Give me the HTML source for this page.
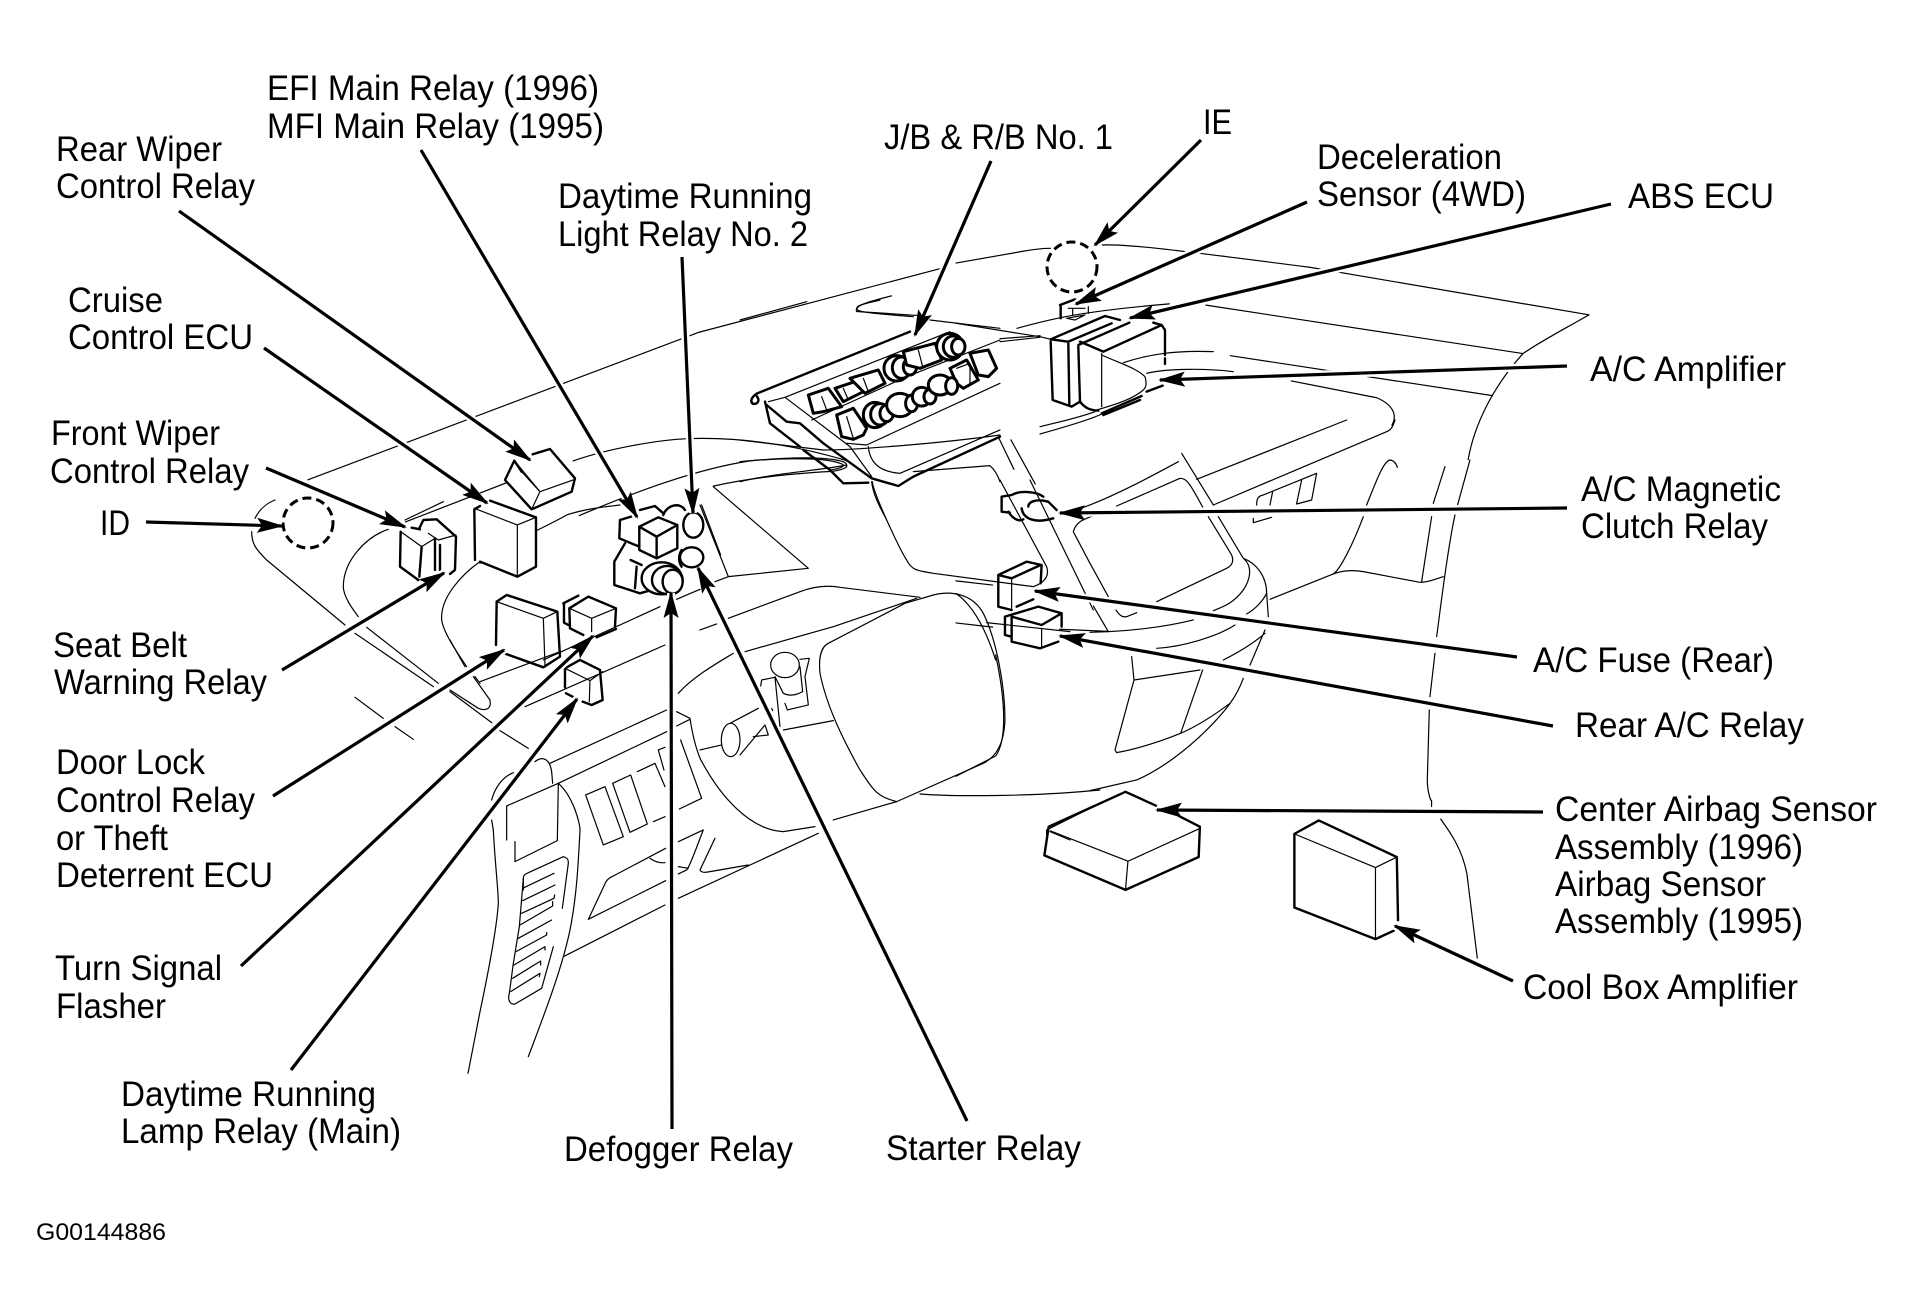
<!DOCTYPE html>
<html><head><meta charset="utf-8"><title>Diagram</title>
<style>
html,body{margin:0;padding:0;background:#fff}
svg{display:block}
text{font-family:"Liberation Sans",sans-serif;font-size:35px;fill:#000}
path,ellipse{vector-effect:non-scaling-stroke;fill:none;stroke:#000;stroke-linejoin:round;stroke-linecap:round}
.t path,.t ellipse{stroke-width:1.2}
.k path,.k ellipse{stroke-width:2.4}
.f path,.f ellipse{stroke-width:3}
.k .w,.k ellipse,.f .w,.f ellipse{fill:#fff}
.a{stroke-width:3.2;stroke-linecap:butt;marker-end:url(#h)}
.halo{stroke:#fff;stroke-width:8;stroke-linecap:butt}
</style></head><body>
<svg width="1912" height="1315" viewBox="0 0 1912 1315" xmlns="http://www.w3.org/2000/svg">
<defs><marker id="h" markerUnits="userSpaceOnUse" markerWidth="30" markerHeight="16" refX="25" refY="7.5" orient="auto"><polygon points="0,0 27,7.5 0,15 5,7.5" fill="#000"/></marker></defs>
<rect width="1912" height="1315" fill="#fff"/>

<!-- thin dash lines: zoom-1 coordinates -->
<g class="t" transform="translate(0,0) scale(.6097,.4209)">
<path d="M505 1140L1145 790L1550 635"/>
<path d="M665 1240L870 1125M940 1095C1000 1065 1080 1045 1130 1042C1220 1038 1310 1060 1390 1095"/>
<path d="M950 1225C1040 1170 1140 1115 1230 1095C1300 1085 1360 1085 1385 1098C1395 1110 1385 1115 1365 1120"/>
<path d="M1170 1155C1230 1135 1300 1125 1365 1120"/>
<path d="M1405 740C1400 725 1430 715 1462 703M1405 740L1510 750"/>
</g>

<!-- left hood -->
<g class="t" transform="translate(240,500) scale(.3333)">
<path d="M45 55C60 25 80 10 105 0"/>
<path d="M35 95C35 130 45 145 80 180L315 375M345 400L580 560"/>
<path d="M445 88C380 110 310 180 310 260C310 290 340 330 355 350M380 382L595 550"/>
<path d="M345 592L430 655M465 680L520 718"/>
<path d="M495 60L610 5"/>
<path d="M630 570L715 625C740 635 755 625 750 600L700 530"/>
</g>

<!-- right dash: zoom-2 coordinates -->
<g class="t" transform="translate(956,0) scale(.6097,.4209)">
<path d="M0 625L110 597C130 592 145 590 155 590M240 582C280 580 340 590 580 635L1038 748"/>
<path d="M0 768L137 800"/>
<path d="M100 780C150 760 200 740 350 722M410 725L930 840"/>
<path d="M450 845L880 940M550 905L690 945C715 960 725 985 715 1010"/>
<path d="M70 1040L95 1115M90 1045L130 1150"/>
<path d="M1038 748C1000 780 960 810 930 840C880 920 850 1010 840 1092"/>
<path d="M0 1380L60 1390M0 1480L60 1490M0 1410C30 1440 50 1500 65 1568M170 1495L250 1500"/>
</g>

<!-- ABS / amplifier -->
<g transform="translate(1040,290) scale(.3333)">
<g class="k">
<path d="M60 45L105 28M62 45L62 85"/>
<path d="M32 148L195 78L240 90M32 148L85 155L215 100M32 155L38 330L95 350L120 335M85 160L88 345M115 170L120 335C135 355 150 360 175 362M115 165L268 98M120 155L190 185L365 105L340 98M365 105L375 120L375 195M375 205L375 222"/>
<path d="M320 305L368 287M185 370L305 318M190 375L300 330"/>
</g>
<g class="t">
<path d="M85 55L135 55M98 55L98 75M145 50L145 70M80 85L135 75L105 90L80 85"/>
<path d="M185 195C240 220 290 235 315 260C320 280 320 290 310 300C280 325 240 340 170 360M185 190L185 350"/>
<path d="M250 218C320 195 400 180 520 185"/>
<path d="M320 250C380 235 500 235 580 245"/>
<path d="M0 140L32 148M0 410C60 395 110 385 165 365M0 432C60 415 150 390 185 372"/>
<path d="M-120 146L0 137M-120 155L0 142"/>
</g>
</g>

<!-- right region detail -->
<g class="t" transform="translate(1090,420) scale(.3333)">
<path d="M-81 285L0 255C100 215 200 160 265 125M275 100L370 255M320 178L770 0"/>
<path d="M80 258L270 175C290 175 300 190 340 265M355 290L425 405C435 430 420 440 410 445L200 545"/>
<path d="M385 290L460 415C500 430 530 470 530 520L535 590M460 415C490 440 480 480 460 510C430 550 400 560 370 572"/>
<path d="M370 255L630 145L890 35C905 30 910 15 915 0"/>
<path d="M500 255C500 235 505 228 520 225L680 160L665 240L620 252M635 180L620 250M548 215L540 255M490 295L490 308L545 292"/>
<path d="M830 255C860 180 880 125 900 120C915 122 920 135 922 142M820 290C790 370 750 450 730 462L540 538"/>
<path d="M730 462C760 450 790 450 820 455L990 487C1020 487 1040 475 1060 470M1065 140L1030 250M1025 290L995 485"/>
<path d="M1140 120L1100 265M1095 285C1070 400 1050 580 1040 650M1035 700L1020 830M1018 870L1012 1080C1012 1100 1015 1120 1022 1140"/>
<path d="M0 430L55 530M10 558L55 635M78 570C90 590 100 592 110 590L140 578"/>
<path d="M0 637L55 635C150 630 230 620 310 600M470 582C500 565 520 540 530 520M200 685C280 680 380 650 435 615M400 720C450 695 490 670 525 640M525 630L480 735"/>
<path d="M460 775C440 830 410 870 350 930C290 990 210 1050 140 1080L0 1112"/>
<path d="M125 710L132 780L330 750M132 780L75 990L80 998C150 985 210 965 272 940C330 915 380 880 420 850M338 750L272 940"/>
</g>

<!-- lower right: zoom-4 coordinates -->
<g class="t" transform="translate(956,655) scale(.6097,.4209)">
<path d="M780 345L780 360M795 390C810 420 830 460 838 520L855 720"/>
<path d="M65 0C80 100 85 200 65 240L0 288"/>
</g>
<g class="k" transform="translate(956,655) scale(.6097,.4209)">
<path d="M278 325L328 358M365 382L400 408L398 480L278 558L145 476L152 408L278 325"/>
<path d="M723 480L725 630M718 655L688 675L555 600L555 425L595 393L723 480"/>
</g>
<g class="t" transform="translate(956,655) scale(.6097,.4209)">
<path d="M155 418L282 490L400 412M282 490L278 558"/>
<path d="M555 425L688 505L723 480M688 505L688 675"/>
</g>

<!-- steering wheel region -->
<g class="t" transform="translate(700,480) scale(.3333)">
<path d="M517 5C520 40 600 210 620 240C635 270 650 272 700 280L1000 320"/>
<path d="M40 20L325 265L85 290L0 75M45 305L85 290"/>
<path d="M85 415L300 335C340 320 380 315 420 322L660 352M0 450L50 432"/>
<path d="M135 515L400 440L650 355"/>
<path d="M385 490L615 370L700 345C760 330 820 345 850 400C890 480 915 620 915 720C912 790 890 830 850 850L590 965C530 950 520 930 480 870C430 780 380 680 360 580C355 530 365 500 385 490Z"/>
<path d="M860 428L1110 455M660 942C760 950 1000 950 1200 930"/>
<path d="M400 1020L590 965M0 835C60 950 150 1050 250 1055L345 1040"/>
<ellipse cx="255" cy="555" rx="43" ry="38"/>
<path d="M225 590L250 640C270 650 290 645 308 635L300 560M300 538L328 535L315 590L325 675L262 690L255 670M182 618L185 600L225 592L240 740M250 750L400 722"/>
<path d="M90 730L175 685M215 685L218 692"/>
<ellipse cx="92" cy="780" rx="28" ry="50"/>
<path d="M120 825L195 735L205 765L160 770M0 810L65 795"/>
<path d="M900 0L1040 260C1050 290 1030 310 1000 320M990 0L1180 390M1120 155C1130 120 1160 115 1200 100M1120 155L1170 250"/>
<path d="M1040 1080L1040 1050L1200 970M1050 1055L1110 1080"/>
</g>
<g class="k" transform="translate(700,480) scale(.3333)">
<path d="M905 50L905 95L930 98M905 50L935 45C960 30 1010 35 1030 50M965 85C970 120 1010 130 1060 115M985 80C985 65 1010 55 1045 65L1070 90M925 95C940 120 960 125 970 118"/>
<path d="M895 285L895 380L935 390M895 285L980 245L1025 255L1022 310M895 285L935 295L1022 255M950 380L1000 358"/>
<path d="M915 410L915 465L935 470M915 410L1015 380L1085 400L1085 440M935 410L1025 435L1085 400M935 410L935 485L1020 505L1075 485"/>
</g>
<g class="t" transform="translate(700,480) scale(.3333)"><path d="M1025 445L1025 505M935 295L935 385"/></g>

<!-- lower-left console -->
<g class="t" transform="translate(440,640) scale(.3333)">
<path d="M120 125L360 35M255 200L675 15M330 370L680 210M355 430L680 275"/>
<path d="M30 0L75 80M30 155L155 248M180 272L265 325"/>
<path d="M155 480C165 440 190 410 220 398M285 365C310 345 330 360 335 395L338 430M355 430L200 498L200 600M355 430L352 602L225 665L225 605"/>
<path d="M155 540L160 570M355 430C400 470 420 550 420 570"/>
<path d="M437 465L495 440L550 590L490 615ZM518 430L572 405L622 552L570 577ZM592 395L645 370L675 440M640 545L675 530M655 330L675 322M655 330L672 390M722 300L785 475L718 507"/>
<path d="M715 605L790 570C770 620 750 680 740 690L715 702M715 680L745 685M825 595L780 690C785 700 800 697 810 695L925 675"/>
<path d="M715 775L1135 580M710 215L750 235C760 300 770 330 780 354M710 258L750 238M715 160C760 110 830 70 880 40"/>
</g>

<!-- vent & pillars -->
<g class="t" transform="translate(480,830) scale(.3333)">
<path d="M40 0C45 100 55 180 55 220C50 300 20 450 0 545L-36 730"/>
<path d="M300 0C295 100 290 200 270 300C245 420 190 560 145 680"/>
<path d="M250 380L555 225M325 268L378 155C385 145 390 143 400 138L557 55M325 268L557 152M510 85C525 95 540 100 555 98"/>
<path d="M130 180L130 145C130 135 135 133 145 128L250 80C265 85 265 90 265 100L247 235"/>
<path d="M130 145L118 290L100 400L88 490C82 510 90 525 105 522L185 475L220 350"/>
<path d="M128 175L222 130M128 212L225 165M125 250L222 205L224 195M120 285L218 228L218 215M115 325L215 270M108 365L200 315L200 308M102 405L195 350L195 360M98 445L182 393L182 405M92 485L180 430L178 440"/>
</g>

<!-- relays -->
<g transform="translate(380,430) scale(.3333)">
<g class="t">
<path d="M300 395C250 430 180 500 185 570C190 610 240 680 260 710M285 740L300 760"/>
<path d="M300 400C400 330 500 290 560 255C620 235 680 230 720 225"/>
<path d="M490 690L840 530M890 508L960 478"/>
<path d="M965 225L1022 375"/>
</g>
<g class="k">
<path class="w" d="M458 73L510 57L585 145L575 185L455 238L375 150L403 92Z" style="stroke:none"/>
<path d="M458 73L510 57L585 145L575 185L455 238L375 150L403 92L425 125"/>
<path class="w" d="M283 238L330 212L468 262L468 410L412 440L283 390Z" style="stroke:none"/>
<path d="M330 212L468 262L468 410L412 440L300 395M285 390L283 238L300 228"/>
<path d="M62 305L60 410L115 450M95 293L120 298M118 295L130 270L170 268L228 320L225 420L210 432"/>
<path d="M125 350L118 440M165 325L165 420M180 345L180 420"/>
<path d="M350 515L380 495L532 545L540 680L490 712L378 672M350 515L348 645"/>
<path d="M550 520L595 497M552 520L552 578L565 585M568 535L625 500L708 535L705 590M568 535L570 595L610 615M650 622L708 597"/>
<path d="M555 715L600 690L660 720L668 810L635 825L608 815M555 715L555 772M558 790L578 800"/>
<path d="M720 270L770 255M720 270L718 325L778 350M780 240L825 228L850 250M850 255C860 225 900 215 915 240"/>
<path d="M735 340L703 395L703 465L780 490L815 480M752 390L785 405M770 410L765 475"/>
<ellipse cx="940" cy="285" rx="30" ry="38"/>
<ellipse cx="935" cy="382" rx="35" ry="30"/>
<path d="M905 360C895 375 895 395 905 410"/>
<path class="w" d="M778 290L835 262L892 285L892 355L830 385L778 360Z"/>
<path d="M778 290L830 320L892 285M830 320L830 385"/>
<ellipse cx="845" cy="445" rx="60" ry="48"/>
<ellipse cx="862" cy="450" rx="46" ry="42"/>
<ellipse cx="878" cy="455" rx="30" ry="36"/>
</g>
<g class="t">
<path d="M403 92L480 185L585 148M480 185L455 238M425 125L480 185"/>
<path d="M283 235L412 285L468 262M412 285L412 440"/>
<path d="M62 305L125 350L165 325M145 310L175 330L228 315"/>
<path d="M350 515L490 565L532 545M490 565L495 705"/>
<path d="M568 535L635 565L708 535M635 565L635 605"/>
<path d="M555 715L630 752L668 725M630 752L628 815"/>
</g>
</g>

<!-- fuse box -->
<g transform="translate(740,300) scale(.3333)">
<g class="t">
<path d="M0 60L200 5M570 60L780 85"/>
<path d="M0 420L250 450C350 450 600 430 780 405M0 485C100 475 250 470 300 490C320 495 310 505 270 510M0 545C100 520 250 510 320 495"/>
<path d="M395 545C400 590 425 630 440 660M520 515L750 497C765 510 775 530 780 545"/>
<path d="M85 305L135 292L630 95M135 292L330 440L395 530M320 430L380 435L780 250M215 360L500 230L780 120M385 440C390 490 420 515 480 520L780 390"/>
<path d="M350 25C350 15 380 10 420 0M350 25C350 35 370 38 520 50"/>
</g>
<g class="k">
<path d="M52 280L510 95M52 280C35 290 28 305 40 312C55 312 60 300 50 288"/>
<path d="M75 305L90 370L180 440M190 450L270 510L310 550L385 548"/>
<path d="M80 315L140 365L180 370L250 430L395 535L475 558L520 530L780 410"/>
</g>
<g class="f">
<path class="w" d="M205 285L265 265L305 320L250 335L220 340Z"/>
<path class="w" d="M285 265L360 240L370 275L310 305Z"/>
<path class="w" d="M330 235L415 210L435 250L375 280Z"/>
<ellipse cx="470" cy="205" rx="38" ry="38"/><ellipse cx="485" cy="203" rx="28" ry="32"/><ellipse cx="510" cy="200" rx="20" ry="25"/>
<path class="w" d="M490 155L585 130L605 180L540 205L500 195Z"/>
<ellipse cx="630" cy="140" rx="40" ry="40"/><ellipse cx="640" cy="140" rx="30" ry="32"/><ellipse cx="655" cy="140" rx="20" ry="25"/>
<path class="w" d="M690 160L745 150L770 205L745 230L715 225Z"/>
<path class="w" d="M630 205L680 180L715 240L670 265L650 250Z"/>
<path class="w" d="M290 345L340 325L380 385L370 405L340 418L305 410Z"/>
<ellipse cx="405" cy="345" rx="35" ry="38"/><ellipse cx="420" cy="343" rx="28" ry="32"/><ellipse cx="440" cy="340" rx="20" ry="25"/>
<ellipse cx="480" cy="315" rx="40" ry="35"/><ellipse cx="515" cy="310" rx="18" ry="25"/>
<ellipse cx="545" cy="290" rx="28" ry="28"/><ellipse cx="570" cy="290" rx="18" ry="22"/>
<ellipse cx="600" cy="255" rx="35" ry="30"/><ellipse cx="635" cy="258" rx="18" ry="25"/>
</g>
<g class="t">
<path d="M245 290L262 335M310 265L325 300M370 235L385 275M535 150L548 200M650 205L690 190L690 255M320 350L340 415"/>
</g>
</g>

<!-- dashed circles -->
<circle cx="308" cy="523" r="25" fill="none" stroke="#000" stroke-width="3" stroke-dasharray="9 5"/>
<circle cx="1072" cy="267" r="25" fill="none" stroke="#000" stroke-width="3" stroke-dasharray="9 5"/>

<!-- halos -->
<path class="halo" d="M179 211L530 460M264 348L487 503M421 150L637 517M682 257L693 513M991 161L915 335M266 468L405 527M146 522L282 526M282 670L444 573M273 796L504 650M241 966L593 636M291 1070L577 699M672 1129L671 593M967 1121L698 568M1201 140L1095 245M1307 202L1076 304M1611 204L1130 318M1567 366L1160 380M1567 508L1060 513M1517 657L1035 591M1553 726L1060 636M1543 812L1157 810M1513 981L1395 926"/>

<!-- arrows -->
<g>
<path class="a" d="M179 211L530 460"/>
<path class="a" d="M264 348L487 503"/>
<path class="a" d="M421 150L637 517"/>
<path class="a" d="M682 257L693 513"/>
<path class="a" d="M991 161L915 335"/>
<path class="a" d="M266 468L405 527"/>
<path class="a" d="M146 522L282 526"/>
<path class="a" d="M282 670L444 573"/>
<path class="a" d="M273 796L504 650"/>
<path class="a" d="M241 966L593 636"/>
<path class="a" d="M291 1070L577 699"/>
<path class="a" d="M672 1129L671 593"/>
<path class="a" d="M967 1121L698 568"/>
<path class="a" d="M1201 140L1095 245"/>
<path class="a" d="M1307 202L1076 304"/>
<path class="a" d="M1611 204L1130 318"/>
<path class="a" d="M1567 366L1160 380"/>
<path class="a" d="M1567 508L1060 513"/>
<path class="a" d="M1517 657L1035 591"/>
<path class="a" d="M1553 726L1060 636"/>
<path class="a" d="M1543 812L1157 810"/>
<path class="a" d="M1513 981L1395 926"/>
</g>

<!-- labels -->
<g transform="translate(0,1)">
<text x="267" y="99" textLength="332" lengthAdjust="spacingAndGlyphs">EFI Main Relay (1996)</text>
<text x="267" y="137" textLength="337" lengthAdjust="spacingAndGlyphs">MFI Main Relay (1995)</text>
<text x="56" y="160" textLength="166" lengthAdjust="spacingAndGlyphs">Rear Wiper</text>
<text x="56" y="197" textLength="199" lengthAdjust="spacingAndGlyphs">Control Relay</text>
<text x="558" y="207" textLength="254" lengthAdjust="spacingAndGlyphs">Daytime Running</text>
<text x="558" y="245" textLength="250" lengthAdjust="spacingAndGlyphs">Light Relay No. 2</text>
<text x="68" y="311" textLength="95" lengthAdjust="spacingAndGlyphs">Cruise</text>
<text x="68" y="348" textLength="185" lengthAdjust="spacingAndGlyphs">Control ECU</text>
<text x="51" y="444" textLength="169" lengthAdjust="spacingAndGlyphs">Front Wiper</text>
<text x="50" y="482" textLength="199" lengthAdjust="spacingAndGlyphs">Control Relay</text>
<text x="100" y="534" textLength="30" lengthAdjust="spacingAndGlyphs">ID</text>
<text x="53" y="656" textLength="134" lengthAdjust="spacingAndGlyphs">Seat Belt</text>
<text x="54" y="693" textLength="213" lengthAdjust="spacingAndGlyphs">Warning Relay</text>
<text x="56" y="773" textLength="149" lengthAdjust="spacingAndGlyphs">Door Lock</text>
<text x="56" y="811" textLength="199" lengthAdjust="spacingAndGlyphs">Control Relay</text>
<text x="56" y="849" textLength="112" lengthAdjust="spacingAndGlyphs">or Theft</text>
<text x="56" y="886" textLength="217" lengthAdjust="spacingAndGlyphs">Deterrent ECU</text>
<text x="55" y="979" textLength="167" lengthAdjust="spacingAndGlyphs">Turn Signal</text>
<text x="56" y="1017" textLength="110" lengthAdjust="spacingAndGlyphs">Flasher</text>
<text x="121" y="1105" textLength="255" lengthAdjust="spacingAndGlyphs">Daytime Running</text>
<text x="121" y="1142" textLength="280" lengthAdjust="spacingAndGlyphs">Lamp Relay (Main)</text>
<text x="564" y="1160" textLength="229" lengthAdjust="spacingAndGlyphs">Defogger Relay</text>
<text x="886" y="1159" textLength="195" lengthAdjust="spacingAndGlyphs">Starter Relay</text>
<text x="36" y="1239" textLength="130" lengthAdjust="spacingAndGlyphs" style="font-size:24px">G00144886</text>
<text x="884" y="148" textLength="229" lengthAdjust="spacingAndGlyphs">J/B &amp; R/B No. 1</text>
<text x="1203" y="133" textLength="29" lengthAdjust="spacingAndGlyphs">IE</text>
<text x="1317" y="168" textLength="185" lengthAdjust="spacingAndGlyphs">Deceleration</text>
<text x="1317" y="205" textLength="209" lengthAdjust="spacingAndGlyphs">Sensor (4WD)</text>
<text x="1628" y="207" textLength="146" lengthAdjust="spacingAndGlyphs">ABS ECU</text>
<text x="1590" y="380" textLength="196" lengthAdjust="spacingAndGlyphs">A/C Amplifier</text>
<text x="1581" y="500" textLength="200" lengthAdjust="spacingAndGlyphs">A/C Magnetic</text>
<text x="1581" y="537" textLength="187" lengthAdjust="spacingAndGlyphs">Clutch Relay</text>
<text x="1533" y="671" textLength="241" lengthAdjust="spacingAndGlyphs">A/C Fuse (Rear)</text>
<text x="1575" y="736" textLength="229" lengthAdjust="spacingAndGlyphs">Rear A/C Relay</text>
<text x="1555" y="820" textLength="322" lengthAdjust="spacingAndGlyphs">Center Airbag Sensor</text>
<text x="1555" y="858" textLength="248" lengthAdjust="spacingAndGlyphs">Assembly (1996)</text>
<text x="1555" y="895" textLength="211" lengthAdjust="spacingAndGlyphs">Airbag Sensor</text>
<text x="1555" y="932" textLength="248" lengthAdjust="spacingAndGlyphs">Assembly (1995)</text>
<text x="1523" y="998" textLength="275" lengthAdjust="spacingAndGlyphs">Cool Box Amplifier</text>
</g>
</svg>
</body></html>
